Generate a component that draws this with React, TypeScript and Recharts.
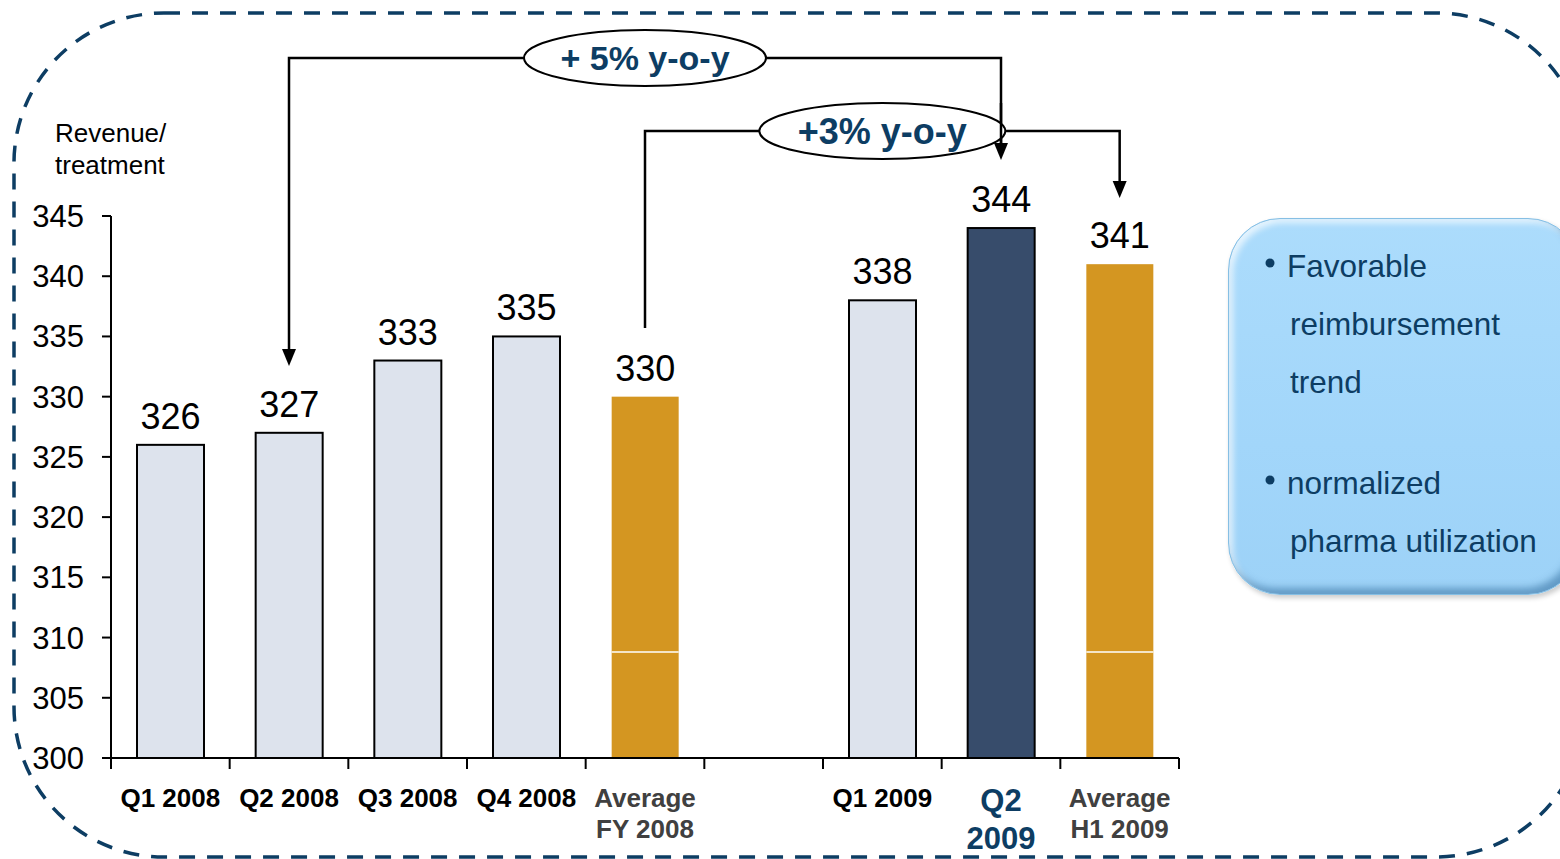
import React from 'react';
import { BarChart, Bar, XAxis, YAxis, LabelList } from 'recharts';

// Revenue per treatment by quarter, with yearly / half-year averages
const categories = [
  'Q1 2008',
  'Q2 2008',
  'Q3 2008',
  'Q4 2008',
  'Average\nFY 2008',
  '',
  'Q1 2009',
  'Q2\n2009',
  'Average\nH1 2009',
];
const revenue: (number | null)[] = [326, 327, 333, 335, 330, null, 338, 344, 341];
const barKinds = ['quarter', 'quarter', 'quarter', 'quarter', 'average', 'gap', 'quarter', 'current', 'average'];
const yTicks = [300, 305, 310, 315, 320, 325, 330, 335, 340, 345];
const Y_MIN = 300;
const Y_MAX = 345;
// thin white seam through the average bars
const SEAM_VALUE = 308.8;

const notes = [
  { bullet: true, text: 'Favorable' },
  { bullet: false, text: 'reimbursement' },
  { bullet: false, text: 'trend' },
  { bullet: true, text: 'normalized' },
  { bullet: false, text: 'pharma utilization' },
];

const FONT = "'Liberation Sans', Arial, sans-serif";
const NAVY = '#0d3d63';

const W = 1560;
const H = 859;
const PLOT_LEFT = 111;
const PLOT_RIGHT = 1179;
const PLOT_TOP = 216;
const PLOT_BOTTOM = 758;
const Y_AXIS_W = 80;
const X_AXIS_H = 90;
const SLOT = (PLOT_RIGHT - PLOT_LEFT) / categories.length;

const data = categories.map((name, i) => ({ name, value: revenue[i], kind: barKinds[i] }));

const xOf = (i: number) => PLOT_LEFT + SLOT * (i + 0.5);

const barStyle: Record<string, { fill: string; stroke: string }> = {
  quarter: { fill: '#dde3ed', stroke: '#000' },
  current: { fill: '#374c6b', stroke: '#000' },
  average: { fill: '#d49621', stroke: 'none' },
};

const BarShape = (props: any) => {
  const { x, y, width, height, payload } = props;
  if (payload.value == null || !height) return null;
  const st = barStyle[payload.kind];
  const seamY = y + (height * (payload.value - SEAM_VALUE)) / (payload.value - Y_MIN);
  return (
    <g>
      <rect x={x} y={y} width={width} height={height} fill={st.fill} stroke={st.stroke} strokeWidth={2} />
      {payload.kind === 'average' && (
        <line x1={x} x2={x + width} y1={seamY} y2={seamY} stroke="#fff" strokeWidth={1.5} />
      )}
    </g>
  );
};

const CategoryTick = (props: any) => {
  const { x, y, payload, index } = props;
  const kind = barKinds[index];
  const lines = String(payload.value).split('\n');
  const isCurrent = kind === 'current';
  const color = isCurrent ? NAVY : kind === 'average' ? '#404040' : '#000';
  const size = isCurrent ? 31 : 26;
  const lineGap = isCurrent ? 38 : 31;
  return (
    <g>
      <line x1={x - SLOT / 2} x2={x - SLOT / 2} y1={y} y2={y + 11} stroke="#000" strokeWidth={2} />
      {index === categories.length - 1 && (
        <line x1={x + SLOT / 2} x2={x + SLOT / 2} y1={y} y2={y + 11} stroke="#000" strokeWidth={2} />
      )}
      <text
        x={x}
        y={y + (isCurrent ? 53 : 49)}
        textAnchor="middle"
        fontFamily={FONT}
        fontWeight="bold"
        fontSize={size}
        fill={color}
      >
        {lines.map((l, i) => (
          <tspan key={i} x={x} dy={i === 0 ? 0 : lineGap}>
            {l}
          </tspan>
        ))}
      </text>
    </g>
  );
};

const Arrow = ({ x, tip }: { x: number; tip: number }) => (
  <polygon points={`${x},${tip} ${x - 7},${tip - 17} ${x + 7},${tip - 17}`} fill="#000" />
);

const Overlay = () => {
  const a1 = { left: xOf(1), right: xOf(7), top: 58, cx: xOf(4), rx: 121, ry: 28 };
  const a2 = { left: xOf(4), right: xOf(8), top: 131, cx: xOf(6), rx: 123, ry: 28 };
  return (
    <svg width={W} height={H} style={{ position: 'absolute', left: 0, top: 0, pointerEvents: 'none' }}>
      <rect
        x={14}
        y={13}
        width={1572}
        height={844}
        rx={150}
        fill="none"
        stroke={NAVY}
        strokeWidth={3.5}
        strokeDasharray="16 12"
      />
      <text x={55} y={142} fontFamily={FONT} fontSize={26} fill="#000">
        Revenue/
      </text>
      <text x={55} y={174} fontFamily={FONT} fontSize={26} fill="#000">
        treatment
      </text>

      {/* Q2 2008 -> Q2 2009 */}
      <polyline
        points={`${a1.left},349 ${a1.left},${a1.top} ${a1.right},${a1.top} ${a1.right},143`}
        fill="none"
        stroke="#000"
        strokeWidth={2.5}
      />
      <Arrow x={a1.left} tip={366} />
      <Arrow x={a1.right} tip={160} />
      <ellipse cx={a1.cx} cy={a1.top} rx={a1.rx} ry={a1.ry} fill="#fff" stroke="#000" strokeWidth={2} />
      <text x={a1.cx} y={a1.top + 12} textAnchor="middle" fontFamily={FONT} fontWeight="bold" fontSize={34} fill={NAVY}>
        + 5% y-o-y
      </text>

      {/* FY 2008 average -> H1 2009 average */}
      <polyline
        points={`${a2.left},328 ${a2.left},${a2.top} ${a2.right},${a2.top} ${a2.right},181`}
        fill="none"
        stroke="#000"
        strokeWidth={2.5}
      />
      <Arrow x={a2.right} tip={198} />
      <ellipse cx={a2.cx} cy={a2.top} rx={a2.rx} ry={a2.ry} fill="#fff" stroke="#000" strokeWidth={2} />
      <line x1={a1.right} x2={a1.right} y1={a2.top - a2.ry} y2={143} stroke="#000" strokeWidth={2.5} />
      <text x={a2.cx} y={a2.top + 13} textAnchor="middle" fontFamily={FONT} fontWeight="bold" fontSize={36} fill={NAVY}>
        +3% y-o-y
      </text>
    </svg>
  );
};

const NoteBox = () => {
  const ys = [277, 335, 393, 494, 552];
  return (
    <>
      <div
        style={{
          position: 'absolute',
          left: 1228,
          top: 218,
          width: 352,
          height: 377,
          boxSizing: 'border-box',
          borderRadius: 52,
          border: '1px solid #86bfe4',
          background: 'linear-gradient(180deg, #acdcfc 0%, #a2d6fa 60%, #9dd2f7 100%)',
          boxShadow:
            'inset -5px -6px 7px rgba(40, 100, 150, 0.5), inset 4px 4px 6px rgba(255, 255, 255, 0.7), 2px 3px 5px rgba(0, 0, 0, 0.2)',
        }}
      />
      <svg width={W} height={H} style={{ position: 'absolute', left: 0, top: 0, pointerEvents: 'none' }}>
        {notes.map((n, i) => (
          <g key={i}>
            {n.bullet && <circle cx={1270} cy={ys[i] - 14} r={4.5} fill={NAVY} />}
            <text x={n.bullet ? 1287 : 1290} y={ys[i]} fontFamily={FONT} fontSize={31.5} fill={NAVY}>
              {n.text}
            </text>
          </g>
        ))}
      </svg>
    </>
  );
};

export default function App() {
  return (
    <div
      style={{
        position: 'absolute',
        left: 0,
        top: 0,
        width: W,
        height: H,
        overflow: 'hidden',
        background: '#fff',
        fontFamily: FONT,
      }}
    >
      <BarChart
        width={W}
        height={H}
        data={data}
        barSize={67}
        margin={{
          top: PLOT_TOP,
          right: W - PLOT_RIGHT,
          bottom: H - PLOT_BOTTOM - X_AXIS_H,
          left: PLOT_LEFT - Y_AXIS_W,
        }}
      >
        <XAxis
          dataKey="name"
          interval={0}
          height={X_AXIS_H}
          tickLine={false}
          tickSize={0}
          tickMargin={0}
          axisLine={{ stroke: '#000', strokeWidth: 2 }}
          tick={<CategoryTick />}
        />
        <YAxis
          domain={[Y_MIN, Y_MAX]}
          ticks={yTicks}
          allowDataOverflow
          width={Y_AXIS_W}
          tickSize={9}
          tickMargin={18}
          axisLine={{ stroke: '#000', strokeWidth: 2 }}
          tickLine={{ stroke: '#000', strokeWidth: 2 }}
          tick={{ fontSize: 31, fill: '#000', fontFamily: FONT }}
        />
        <Bar dataKey="value" shape={<BarShape />} isAnimationActive={false}>
          <LabelList
            dataKey="value"
            position="top"
            offset={16}
            fontSize={36}
            fill="#000"
            fontFamily={FONT}
            formatter={(v: any) => (v == null ? '' : v)}
          />
        </Bar>
      </BarChart>
      <NoteBox />
      <Overlay />
    </div>
  );
}
